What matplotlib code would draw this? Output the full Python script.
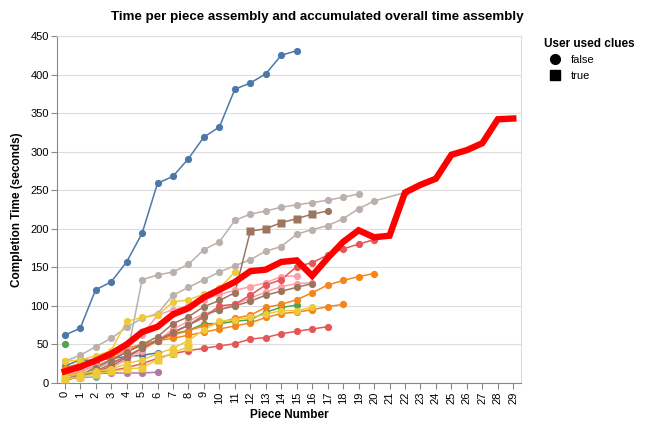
import numpy as np
import matplotlib.pyplot as plt
from matplotlib.lines import Line2D

plt.rcParams['font.family'] = ['Liberation Sans', 'DejaVu Sans']

# completion time (seconds) per piece, one list per user, starting at piece 0
blue_a = [62, 71, 121, 131, 157, 194, 259, 268, 291, 319, 332, 381, 389, 401, 425, 431]
blue_b = [22, 30, 29, 32, 34, 36, 39]
gray_a = [5, 12, 18, 28, 32, 134, 140, 144, 154, 173, 183, 211, 219, 223, 228, 231, 234, 237, 241, 245]
gray_b = [28, 36, 47, 58, 72, 84, 90, 114, 124, 134, 144, 152, 160, 171, 177, 193, 199, 204, 213, 226, 236, None, 247]
brown_a = [3, 10, 20, 30, 40, 50, 60, 77, 86, 99, 107, 117, 197, 200, 208, 213, 219, 223]
brown_b = [4, 8, 14, 22, 33, 45, 55, 66, 75, 88, 95, 100, 106, 114, 119, 124, 129]
red_a = [10, 12, 14, 16, 20, 25, 32, 38, 42, 45, 48, 51, 57, 59, 64, 67, 70, 73]
red_b = [5, 10, 15, 25, 35, 45, 55, 65, 75, 85, 100, 102, 114, 127, 134, 151, 156, 166, 174, 180, 186]
pink_a = [10, 15, 22, 30, 45, 62, 88, 95, 100, 108, 115, 120, 125, 130, 138, 139]
pink_b = [5, 8, 12, 20, 30, 42, 55, 70, 80, 90, 95, 102, 110, 118, 125, 129, 130]
orange_a = [15, 22, 28, 35, 42, 48, 55, 62, 68, 74, 78, 84, 88, 98, 102, 108, 117, 127, 133, 138, 142]
orange_b = [20, 25, 30, 38, 45, 50, 55, 58, 62, 66, 70, 74, 78, 85, 90, 92, 95, 99, 102]
yellow_a = [28, 30, 35, 42, 80, 85, 88, 105, 108, 115, 123, 144]
yellow_b = [10, 12, 15, 18, 25, 30, 38, 45, 55, 69, 80, 82, 85, 89, 94, 94, 98]
yellow_c = [5, 8, 12, 15, 18, 20, 30, 39, 47]
green_a = [50]
green_b = [8, 15, 22, 30, 40, 50, 55, 64, 68, 77, 77, 80, 82, 92, 98, 101]
purple_a = [10, 12, 12, 13, 13, 13, 14]
teal_a = [5, 7, 8]

# accumulated overall time
overall = [15, 21, 29, 38, 50, 66, 73, 89, 97, 111, 121, 131, 145, 147, 157, 159, 139,
           162, 183, 198, 189, 191, 247, 257, 265, 296, 302, 311, 342, 343]

# pieces where the user used clues
brown_a_clues = [12, 13, 14, 15, 16]
yellow_c_clues = list(range(9))

users = [
    (gray_a, '#bab0ac', []),
    (gray_b, '#bab0ac', []),
    (blue_a, '#4c78a8', []),
    (blue_b, '#4c78a8', []),
    (purple_a, '#b279a2', []),
    (teal_a, '#72b7b2', []),
    (green_a, '#54a24b', []),
    (green_b, '#54a24b', []),
    (orange_a, '#f58518', []),
    (orange_b, '#f58518', []),
    (pink_a, '#ff9da6', []),
    (pink_b, '#ff9da6', []),
    (red_a, '#e45756', []),
    (red_b, '#e45756', []),
    (brown_b, '#9d755d', []),
    (brown_a, '#9d755d', brown_a_clues),
    (yellow_b, '#eeca3b', []),
    (yellow_a, '#eeca3b', []),
    (yellow_c, '#eeca3b', yellow_c_clues),
]

fig = plt.figure(figsize=(6.52, 4.23), dpi=100)
ax = fig.add_axes([57 / 652, 1 - 383 / 423, 464 / 652, 347 / 423])

for vals, col, clues in users:
    x = [i for i, v in enumerate(vals) if v is not None]
    y = [v for v in vals if v is not None]
    ax.plot(x, y, color=col, lw=1.1, zorder=2)
    xc = [i for i in x if i not in clues]
    yc = [vals[i] for i in xc]
    xs = [i for i in x if i in clues]
    ys = [vals[i] for i in xs]
    ax.plot(xc, yc, 'o', color=col, ms=5.2, mec='none', zorder=3)
    ax.plot(xs, ys, 's', color=col, ms=5.2, mec='none', zorder=3)

ax.plot(range(len(overall)), overall, color='#ff0000', lw=4.6, zorder=4,
        solid_joinstyle='miter')

ax.set_xlim(-0.5, 29.5)
ax.set_ylim(0, 450)
ax.set_xticks(range(30))
ax.set_xticklabels([str(i) for i in range(30)], rotation=90, fontsize=8)
ax.set_yticks(range(0, 451, 50))
ax.tick_params(axis='y', labelsize=8, length=4, color='#888888', pad=2)
ax.tick_params(axis='x', length=4, color='#888888', pad=2)
ax.grid(axis='y', color='#dddddd', lw=0.8, zorder=0)
ax.set_axisbelow(True)
for s in ['top', 'right']:
    ax.spines[s].set_color('#dddddd')
for s in ['left', 'bottom']:
    ax.spines[s].set_color('#888888')

ax.set_xlabel('Piece Number', fontsize=8.5, fontweight='bold', labelpad=4)
ax.set_ylabel('Completion Time (seconds)', fontsize=8.5, fontweight='bold', labelpad=5)
fig.text(317 / 652, 1 - 17 / 423, 'Time per piece assembly and accumulated overall time assembly',
         ha='center', va='center', fontsize=9.6, fontweight='bold')

handles = [Line2D([], [], marker='o', ls='none', color='black', ms=7, label='false'),
           Line2D([], [], marker='s', ls='none', color='black', ms=7, label='true')]
leg = fig.legend(handles=handles, title='User used clues', loc='upper left',
                 bbox_to_anchor=(536 / 652, 1 - 30 / 423), frameon=False,
                 fontsize=8, title_fontproperties={'weight': 'bold', 'size': 8.5},
                 handletextpad=0.4, labelspacing=0.5, borderpad=0.2)
leg._legend_box.align = 'left'

fig.savefig('out.png', dpi=100)
